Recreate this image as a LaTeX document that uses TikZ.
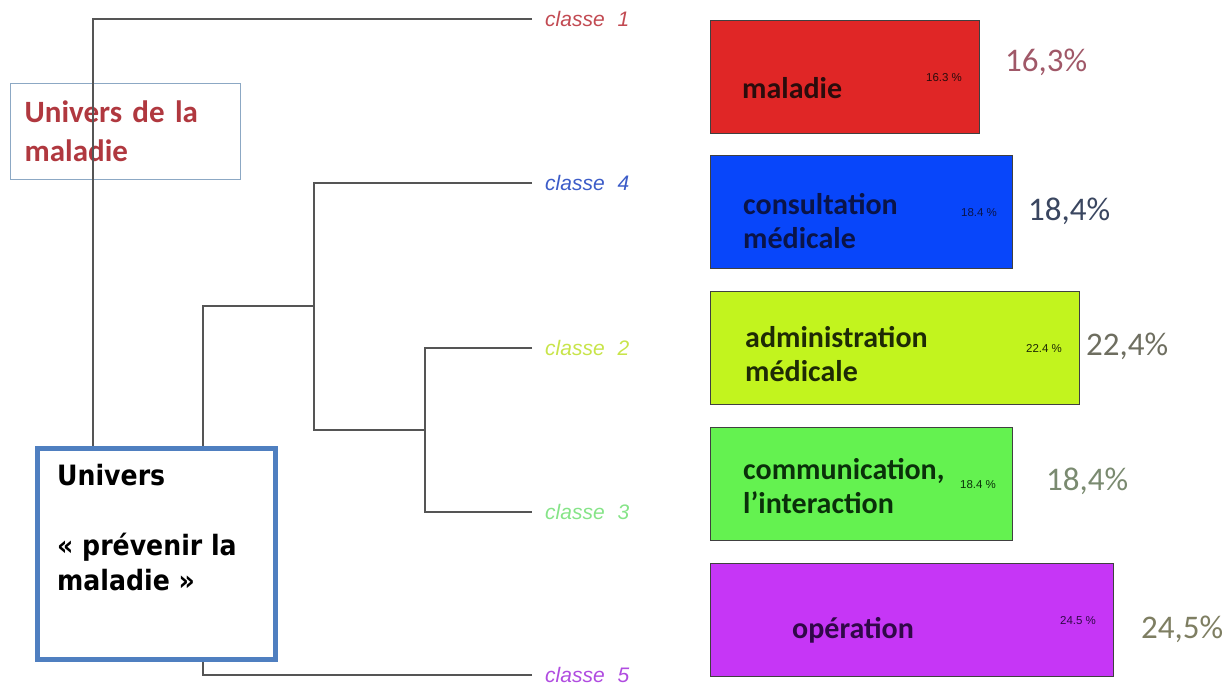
\documentclass[tikz,border=0pt]{standalone}
\usepackage{fontspec}
\setmainfont{Carlito}
\newfontfamily\arialfont{Liberation Sans}
\newfontfamily\tahomafont[FakeStretch=0.9]{DejaVu Sans}
\usetikzlibrary{positioning}

\definecolor{treegray}{HTML}{555555}
\definecolor{cl1}{HTML}{C24A52}
\definecolor{cl4}{HTML}{3C5CC8}
\definecolor{cl2}{HTML}{C8E44A}
\definecolor{cl3}{HTML}{86E488}
\definecolor{cl5}{HTML}{B04CE0}
\definecolor{univred}{HTML}{B0383F}
\definecolor{boxlight}{HTML}{8CA8C4}
\definecolor{boxblue}{HTML}{4F7FC0}
\definecolor{bardark}{HTML}{404040}
\definecolor{barred}{HTML}{E02626}
\definecolor{barblue}{HTML}{0846FA}
\definecolor{baryel}{HTML}{C2F41E}
\definecolor{bargreen}{HTML}{64F250}
\definecolor{barpurple}{HTML}{C636F6}
\definecolor{tred}{HTML}{2A0C0C}
\definecolor{tblue}{HTML}{0A1448}
\definecolor{tyel}{HTML}{1E2A05}
\definecolor{tgreen}{HTML}{0A300A}
\definecolor{tpurple}{HTML}{300848}
\definecolor{pctred}{HTML}{A05868}
\definecolor{pctblue}{HTML}{3A4660}
\definecolor{pctyel}{HTML}{6E6E60}
\definecolor{pctgreen}{HTML}{7A8A70}
\definecolor{pctpurple}{HTML}{7E7E62}

\begin{document}
\begin{tikzpicture}[x=1pt, y=-1pt,
	tree/.style={draw=treegray, line width=1.6pt},
	cls/.style={font=\arialfont\itshape\fontsize{21}{23}\selectfont, inner sep=0pt},
	bar/.style={draw=bardark, line width=1.2pt, anchor=north west, minimum height=113pt, inner sep=0pt},
	bartext/.style={font=\bfseries\fontsize{30}{34}\selectfont, align=left, anchor=base west, inner sep=0pt},
	small/.style={font=\arialfont\fontsize{11.5}{12}\selectfont, inner sep=0pt},
	pct/.style={font=\fontsize{33}{36}\selectfont, anchor=base west, inner sep=0pt}]
	\useasboundingbox (0,0) rectangle (1231,687);

	\node[draw=boxlight, line width=1.3pt, text width=202pt, inner xsep=14pt, minimum height=96pt, align=left, anchor=north west, font=\bfseries\fontsize{31}{39}\selectfont, text=univred] (maladiebox) at (10,83) {Univers de la\\maladie};

	% classes
	\coordinate (l1) at (532,19);
	\coordinate (l4) at (532,183);
	\coordinate (l2) at (532,348);
	\coordinate (l3) at (532,512);
	\coordinate (l5) at (532,675);
	\node[cls, text=cl1, right=13pt of l1] (c1) {classe\hspace{13pt}1};
	\node[cls, text=cl4, right=13pt of l4] (c4) {classe\hspace{13pt}4};
	\node[cls, text=cl2, right=13pt of l2] (c2) {classe\hspace{13pt}2};
	\node[cls, text=cl3, right=13pt of l3] (c3) {classe\hspace{13pt}3};
	\node[cls, text=cl5, right=13pt of l5] (c5) {classe\hspace{13pt}5};

	% dendrogram
	\coordinate (u1) at (93,560);
	\coordinate (u2) at (203,306);
	\coordinate (u3) at (314,430);
	\coordinate (u4) at (425,430);
	\draw[tree] (l1) -| (u1) -- (u1 -| u2);
	\draw[tree] (l5) -| (u2) -- (u2 -| u3);
	\draw[tree] (l4) -| (u3) -- (u4);
	\draw[tree] (l2) -| (u4) |- (l3);

	\node[draw=boxblue, line width=4.5pt, fill=white, minimum width=238pt, minimum height=211pt, anchor=north west, inner sep=0pt] (prevbox) at (35,446) {};
	\node[font=\tahomafont\bfseries\fontsize{28}{35}\selectfont, align=left, anchor=base west, inner sep=0pt] (prevtext) at (57,590) {Univers\\[35pt]«~prévenir la\\maladie~»};

	% bars
	\node[bar, fill=barred, minimum width=269pt] (b1) at (710,20) {};
	\node[bar, fill=barblue, minimum width=302pt] (b4) at (710,155) {};
	\node[bar, fill=baryel, minimum width=369pt] (b2) at (710,291) {};
	\node[bar, fill=bargreen, minimum width=302pt] (b3) at (710,427) {};
	\node[bar, fill=barpurple, minimum width=403pt] (b5) at (710,563) {};

	\node[bartext, text=tred] (t1) at (742,99) {maladie};
	\node[bartext, text=tblue] (t4) at (743,248) {consultation\\médicale};
	\node[bartext, text=tyel] (t2) at (745,381) {administration\\médicale};
	\node[bartext, text=tgreen] (t3) at (743,513) {communication,\\l’interaction};
	\node[bartext, text=tpurple] (t5) at (792,638) {opération};

	\node[small, text=tred] (s1) at (944,78) {16.3 \%};
	\node[small, text=tblue] (s4) at (979,213) {18.4 \%};
	\node[small, text=tyel] (s2) at (1044,349) {22.4 \%};
	\node[small, text=tgreen] (s3) at (978,485) {18.4 \%};
	\node[small, text=tpurple] (s5) at (1078,621) {24.5 \%};

	\node[pct, text=pctred] (p1) at (1005,72) {16,3\%};
	\node[pct, text=pctblue] (p4) at (1028,220) {18,4\%};
	\node[pct, text=pctyel] (p2) at (1086,355) {22,4\%};
	\node[pct, text=pctgreen] (p3) at (1046,490) {18,4\%};
	\node[pct, text=pctpurple] (p5) at (1141,638) {24,5\%};
\end{tikzpicture}
\end{document}
